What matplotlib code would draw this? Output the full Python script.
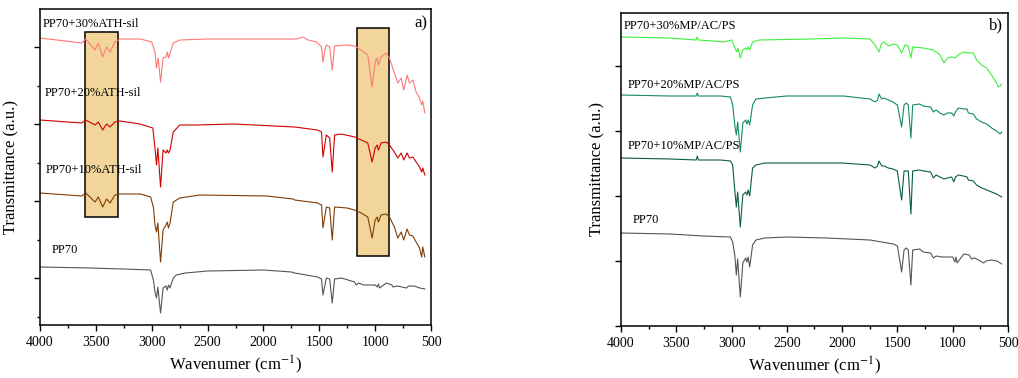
import matplotlib
matplotlib.use("Agg")
import matplotlib.pyplot as plt
from matplotlib.patches import Rectangle
from matplotlib.ticker import MultipleLocator, FixedLocator
import numpy as np

plt.rcParams['font.family'] = ['Liberation Serif', 'DejaVu Serif']
plt.rcParams['mathtext.fontset'] = 'stix'

#--------------------------------------
# FTIR spectra
# y is transmittance in arbitrary units (stacked)
#--------------------------------------

# panel a) : ATH-sil series
wn_ath30 = [4000, 3627, 3590, 3508, 3478, 3439, 3404, 3373, 3329, 3284, 3100, 3000, 2971, 2957, 2942,
            2921, 2898, 2872, 2861, 2850, 2836, 2807, 2749, 2500, 2000, 1700, 1646, 1600, 1525, 1480,
            1467, 1450, 1437, 1407, 1384, 1363, 1250, 1184, 1125, 1066, 1027, 1000, 982, 971, 947,
            902, 872, 828, 797, 767, 744, 714, 693, 663, 633, 603, 583, 574, 555]
t_ath30 = [287, 282, 286, 275, 282, 268, 278, 273, 283, 286, 286, 283, 273, 257, 267,
           243, 267, 268, 273, 267, 272, 282, 285, 286, 286, 286, 288, 285, 283, 278,
           263, 275, 280, 278, 255, 279, 280, 279, 275, 270, 238, 263, 267, 260, 268,
           272, 267, 252, 242, 247, 235, 250, 242, 245, 233, 227, 220, 224, 212]

wn_ath20 = [4000, 3627, 3590, 3508, 3478, 3439, 3404, 3373, 3329, 3284, 3105, 2990, 2971, 2957, 2945,
            2921, 2898, 2872, 2861, 2850, 2836, 2807, 2749, 2600, 2270, 1719, 1518, 1480, 1467, 1437,
            1407, 1384, 1363, 1300, 1184, 1125, 1066, 1027, 1000, 982, 971, 947, 902, 872, 828,
            797, 767, 744, 714, 693, 663, 633, 603, 583, 574, 555]
t_ath20 = [205, 202, 205, 200, 203, 195, 201, 198, 203, 204, 201, 197, 177, 160, 177,
           138, 175, 172, 175, 172, 175, 193, 200, 200, 201, 198, 195, 193, 168, 190,
           187, 153, 190, 191, 188, 185, 182, 163, 177, 180, 175, 182, 183, 180, 173,
           167, 172, 165, 172, 167, 168, 163, 158, 153, 157, 150]

wn_ath10 = [4000, 3627, 3590, 3508, 3478, 3439, 3404, 3373, 3329, 3284, 3100, 3010, 2985, 2971, 2957,
            2945, 2921, 2898, 2872, 2861, 2850, 2836, 2807, 2749, 2568, 1970, 1735, 1720, 1515, 1480,
            1467, 1437, 1407, 1384, 1363, 1250, 1184, 1125, 1066, 1027, 1000, 982, 971, 947, 902,
            872, 828, 797, 767, 744, 714, 693, 663, 633, 603, 583, 574, 555]
t_ath10 = [132, 129, 132, 123, 128, 118, 126, 122, 130, 131, 131, 128, 118, 100, 93,
           102, 63, 95, 100, 103, 97, 102, 123, 127, 130, 129, 126, 125, 122, 120,
           97, 118, 117, 85, 118, 117, 115, 112, 108, 87, 105, 108, 103, 110, 111,
           108, 98, 87, 93, 85, 96, 90, 89, 83, 77, 68, 78, 68]

wn_pp70_a = [4000, 3552, 3254, 3010, 2985, 2971, 2957, 2945, 2921, 2898, 2872, 2861, 2850, 2836, 2807,
             2780, 2700, 2500, 2000, 1750, 1720, 1515, 1480, 1467, 1437, 1407, 1384, 1363, 1300, 1184,
             1170, 1150, 1100, 1000, 980, 971, 960, 900, 850, 840, 800, 720, 700, 650, 600, 555]
t_pp70_a = [58, 57, 56, 55, 45, 33, 27, 38, 12, 37, 39, 35, 40, 37, 47,
            50, 52, 54, 55, 53, 52, 48, 46, 30, 47, 46, 22, 46, 47, 43,
            40, 42, 40, 40, 38, 41, 37, 42, 40, 38, 39, 37, 39, 39, 37, 36]

# highlighted bands (wavenumber range, transmittance range)
band_oh = [3600, 3300, 108, 293]
band_si = [1165, 873, 69, 297]

# panel b) : MP/AC/PS series
wn_mp30 = [4000, 3557, 3320, 3310, 3300, 3165, 3075, 2999, 2969, 2954, 2942, 2921, 2898, 2872, 2861,
           2850, 2836, 2810, 2749, 2290, 1989, 1748, 1703, 1667, 1642, 1621, 1582, 1537, 1501, 1462,
           1432, 1402, 1378, 1362, 1266, 1175, 1115, 1079, 1049, 1009, 979, 949, 904, 859, 814,
           784, 738, 693, 648, 603, 588, 572, 557]
t_mp30 = [289, 288, 286, 289, 286, 285, 284, 286, 278, 274, 278, 268, 276, 278, 276,
          279, 276, 284, 286, 287, 288, 287, 281, 274, 283, 284, 280, 282, 281, 273,
          281, 280, 268, 279, 278, 276, 271, 263, 268, 269, 268, 271, 274, 273, 273,
          266, 261, 258, 251, 243, 239, 240, 242]

wn_mp20 = [4000, 3557, 3320, 3310, 3300, 3100, 3010, 2990, 2971, 2957, 2945, 2921, 2898, 2872, 2861,
           2850, 2836, 2810, 2780, 2700, 2500, 2290, 1989, 1748, 1703, 1680, 1667, 1642, 1621, 1582,
           1540, 1501, 1462, 1440, 1420, 1402, 1378, 1362, 1300, 1266, 1200, 1175, 1150, 1115, 1079,
           1049, 1009, 990, 975, 949, 904, 870, 859, 814, 784, 738, 693, 648, 603, 572, 557]
t_mp20 = [231, 230, 230, 233, 230, 230, 229, 221, 201, 191, 204, 174, 203, 206, 202,
          206, 201, 221, 227, 228, 230, 230, 230, 227, 224, 226, 232, 227, 228, 226,
          224, 221, 199, 221, 223, 221, 188, 221, 222, 220, 219, 214, 216, 213, 211,
          213, 213, 210, 214, 218, 217, 217, 213, 212, 207, 204, 202, 198, 195, 192, 194]

wn_mp10 = [4000, 3557, 3320, 3310, 3300, 3100, 3010, 2990, 2971, 2957, 2945, 2921, 2898, 2872, 2861,
           2850, 2836, 2810, 2780, 2700, 2500, 2000, 1748, 1703, 1680, 1667, 1642, 1621, 1582, 1540,
           1501, 1462, 1440, 1402, 1378, 1362, 1300, 1266, 1200, 1175, 1150, 1115, 1079, 1049, 1009,
           990, 975, 949, 904, 870, 859, 814, 784, 738, 693, 648, 603, 572, 557]
t_mp10 = [168, 167, 166, 170, 166, 166, 165, 161, 136, 119, 134, 99, 131, 134, 131,
          136, 130, 158, 161, 163, 163, 163, 161, 158, 160, 165, 160, 160, 158, 157,
          155, 126, 155, 155, 112, 155, 156, 155, 154, 148, 151, 149, 147, 148, 149,
          144, 149, 151, 150, 149, 146, 145, 141, 138, 136, 134, 132, 130, 129]

wn_pp70_b = [4000, 3557, 3254, 3010, 2990, 2971, 2957, 2945, 2921, 2898, 2872, 2861, 2850, 2836, 2810,
             2780, 2700, 2500, 2140, 1748, 1537, 1500, 1462, 1440, 1420, 1402, 1378, 1362, 1300, 1266,
             1200, 1175, 1150, 1100, 1000, 980, 970, 960, 900, 850, 830, 800, 720, 700, 650, 600, 557]
t_pp70_b = [93, 92, 90, 89, 84, 71, 51, 67, 29, 63, 68, 64, 69, 59, 81,
            86, 88, 89, 88, 86, 82, 80, 54, 76, 78, 76, 41, 76, 77, 74,
            73, 68, 70, 69, 69, 64, 69, 63, 72, 71, 67, 68, 63, 65, 66, 65, 62]

labels_a = ['PP70+30%ATH-sil', 'PP70+20%ATH-sil', 'PP70+10%ATH-sil', 'PP70']
labels_b = ['PP70+30%MP/AC/PS', 'PP70+20%MP/AC/PS', 'PP70+10%MP/AC/PS', 'PP70']
colors_a = ['#ff7878', '#d00000', '#7d3c06', '#555555']
colors_b = ['#3df03d', '#168a60', '#0b5e3e', '#555555']


def styleAxis(ax):
    ax.set_xlim(4000, 500)
    ax.xaxis.set_major_locator(MultipleLocator(500))
    ax.xaxis.set_minor_locator(MultipleLocator(250))
    ax.tick_params(axis='both', which='both', direction='out', top=False, right=False)
    ax.tick_params(axis='both', which='major', length=4.5, width=1, labelsize=10)
    ax.tick_params(axis='both', which='minor', length=2.5, width=1)
    ax.tick_params(axis='y', labelleft=False)
    for s in ax.spines.values():
        s.set_linewidth(1.1)
    ax.set_xlabel('Wavenumer (cm$^{-1}$)', fontsize=12, labelpad=3)
    ax.set_ylabel('Transmittance (a.u.)', fontsize=12, labelpad=9)


fig = plt.figure(figsize=(10.18, 3.78), dpi=100)

# ---------------- panel a) ----------------
axA = fig.add_axes([40/1018, 53/378, 391/1018, 316/378])
for b in [band_oh, band_si]:
    axA.add_patch(Rectangle((b[0], b[2]), b[1]-b[0], b[3]-b[2], facecolor='#f2d699',
                            edgecolor='black', linewidth=1.1, zorder=1))
series_a = [(wn_ath30, t_ath30), (wn_ath20, t_ath20), (wn_ath10, t_ath10), (wn_pp70_a, t_pp70_a)]
for (w, t), c in zip(series_a, colors_a):
    axA.plot(w, t, color=c, linewidth=0.8, zorder=2)
axA.set_ylim(0, 316)
axA.yaxis.set_major_locator(FixedLocator(np.arange(47, 316, 77)))
axA.yaxis.set_minor_locator(FixedLocator(np.arange(8.5, 316, 77)))
styleAxis(axA)
pos_a = [(0.008, 0.953), (0.011, 0.734), (0.015, 0.491), (0.030, 0.237)]
for lab, (px, py) in zip(labels_a, pos_a):
    axA.text(px, py, lab, transform=axA.transAxes, fontsize=9, va='center', ha='left', zorder=3)
axA.text(0.992, 0.956, 'a)', transform=axA.transAxes, fontsize=12, va='center', ha='right')

# ---------------- panel b) ----------------
axB = fig.add_axes([621/1018, 52/378, 387/1018, 313/378])
series_b = [(wn_mp30, t_mp30), (wn_mp20, t_mp20), (wn_mp10, t_mp10), (wn_pp70_b, t_pp70_b)]
for (w, t), c in zip(series_b, colors_b):
    axB.plot(w, t, color=c, linewidth=0.8)
axB.set_ylim(0, 313)
axB.yaxis.set_major_locator(MultipleLocator(65))
axB.yaxis.set_minor_locator(FixedLocator([]))
styleAxis(axB)
axB.set_ylabel('Transmittance (a.u.)', fontsize=12, labelpad=7)
pos_b = [(0.008, 0.958), (0.016, 0.770), (0.018, 0.575), (0.031, 0.339)]
for lab, (px, py) in zip(labels_b, pos_b):
    axB.text(px, py, lab, transform=axB.transAxes, fontsize=9, va='center', ha='left')
axB.text(0.988, 0.962, 'b)', transform=axB.transAxes, fontsize=12, va='center', ha='right')

fig.savefig('out.png', dpi=100)
